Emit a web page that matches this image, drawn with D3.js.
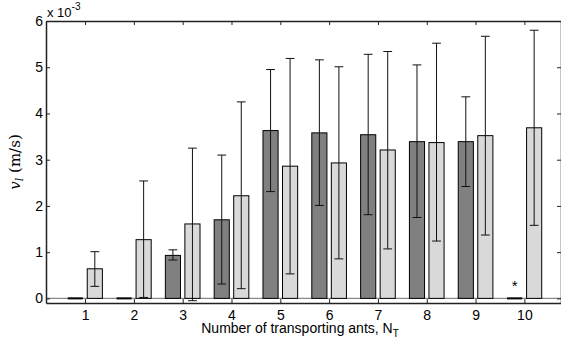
<!DOCTYPE html>
<html>
<head>
<meta charset="utf-8">
<script src="https://cdnjs.cloudflare.com/ajax/libs/d3/7.8.5/d3.min.js"></script>
<style>
  body { margin: 0; background: #fff; }
  svg { display: block; }
</style>
</head>
<body>
<div id="chart"></div>
<script>
// number of transporting ants
const groups = [1, 2, 3, 4, 5, 6, 7, 8, 9, 10];

// dark bars (x 10^-3 m/s) and their error limits
const darkValues = [0, 0, 0.93, 1.70, 3.63, 3.58, 3.54, 3.39, 3.39, 0];
const darkLow    = [null, null, 0.83, 0.31, 2.31, 2.01, 1.81, 1.75, 2.42, null];
const darkHigh   = [null, null, 1.05, 3.10, 4.95, 5.16, 5.28, 5.05, 4.36, null];

// light bars and their error limits
const lightValues = [0.64, 1.27, 1.61, 2.22, 2.86, 2.93, 3.21, 3.37, 3.52, 3.69];
const lightLow    = [0.26, 0.02, -0.05, 0.21, 0.53, 0.855, 1.07, 1.24, 1.37, 1.58];
const lightHigh   = [1.01, 2.54, 3.25, 4.25, 5.19, 5.01, 5.34, 5.52, 5.67, 5.80];

const yTicks = [0, 1, 2, 3, 4, 5, 6];
const starGroup = 10;
const starValue = 0.15;

const W = 561, H = 345;
const margin = { top: 21, right: 0, bottom: 42, left: 46 };
const width = W - margin.left - margin.right;
const height = H - margin.top - margin.bottom;

const svg = d3.select("#chart")
    .append("svg")
    .attr("width", W)
    .attr("height", H)
    .style("font-family", "'Liberation Sans', Arial, sans-serif");

const g = svg.append("g")
    .attr("transform", `translate(${margin.left},${margin.top})`);

const x = d3.scaleLinear().domain([0.2, 10.75]).range([0, width]);
const y = d3.scaleLinear().domain([-0.1, 6]).range([height, 0]);

const barW = x(0.31) - x(0);
const capW = x(0.18) - x(0);

// zero line
g.append("line")
    .attr("x1", 0).attr("x2", width)
    .attr("y1", y(0)).attr("y2", y(0))
    .attr("stroke", "#8a8a8a")
    .attr("stroke-width", 1.2);

function drawSeries(values, low, high, offset, fill) {
    const rows = groups.map((k, i) => ({ k, v: values[i], lo: low[i], hi: high[i] }));

    g.selectAll(null)
        .data(rows.filter(d => d.v > 0))
        .enter()
        .append("rect")
        .attr("x", d => x(d.k + offset) - barW / 2)
        .attr("y", d => y(d.v))
        .attr("width", barW)
        .attr("height", d => y(0) - y(d.v))
        .attr("fill", fill)
        .attr("stroke", "#000")
        .attr("stroke-width", 1);

    // empty bars show up as a flat black edge on the baseline
    g.selectAll(null)
        .data(rows.filter(d => d.v === 0))
        .enter()
        .append("line")
        .attr("x1", d => x(d.k + offset) - barW / 2)
        .attr("x2", d => x(d.k + offset) + barW / 2)
        .attr("y1", y(0)).attr("y2", y(0))
        .attr("stroke", "#000")
        .attr("stroke-width", 2);

    const err = rows.filter(d => d.lo !== null);
    const eg = g.selectAll(null)
        .data(err)
        .enter()
        .append("g")
        .attr("stroke", "#111")
        .attr("stroke-width", 1);

    eg.append("line")
        .attr("x1", d => x(d.k + offset)).attr("x2", d => x(d.k + offset))
        .attr("y1", d => y(d.lo)).attr("y2", d => y(d.hi));
    eg.append("line")
        .attr("x1", d => x(d.k + offset) - capW / 2).attr("x2", d => x(d.k + offset) + capW / 2)
        .attr("y1", d => y(d.hi)).attr("y2", d => y(d.hi));
    eg.append("line")
        .attr("x1", d => x(d.k + offset) - capW / 2).attr("x2", d => x(d.k + offset) + capW / 2)
        .attr("y1", d => y(d.lo)).attr("y2", d => y(d.lo));
}

drawSeries(darkValues, darkLow, darkHigh, -0.2, "#808080");
drawSeries(lightValues, lightLow, lightHigh, 0.2, "#d9d9d9");

// asterisk over group 10
g.append("text")
    .attr("x", x(starGroup - 0.2))
    .attr("y", y(starValue))
    .attr("text-anchor", "middle")
    .style("font-size", "15px")
    .text("*");

// axes
const axBottom = g.append("g")
    .attr("transform", `translate(0,${height})`)
    .call(d3.axisBottom(x).tickValues(groups).tickFormat(d3.format("d"))
        .tickSizeInner(-4).tickSizeOuter(0).tickPadding(7));
const axLeft = g.append("g")
    .call(d3.axisLeft(y).tickValues(yTicks).tickFormat(d3.format("d"))
        .tickSizeInner(-4).tickSizeOuter(0).tickPadding(3));
const axTop = g.append("g")
    .call(d3.axisTop(x).tickValues(groups).tickSizeInner(-4).tickSizeOuter(0).tickFormat(""));
const axRight = g.append("g")
    .attr("transform", `translate(${width},0)`)
    .call(d3.axisRight(y).tickValues(yTicks).tickSizeInner(-4).tickSizeOuter(0).tickFormat(""));

[axBottom, axLeft, axTop, axRight].forEach(a => {
    a.select(".domain").attr("stroke", "#222").attr("stroke-width", 1.5);
    a.selectAll(".tick line").attr("stroke", "#222");
    a.selectAll("text")
        .style("font-family", "'Liberation Sans', Arial, sans-serif")
        .style("font-size", "14px")
        .attr("fill", "#000");
});

// exponent label
const expo = svg.append("text")
    .attr("x", 47)
    .attr("y", 17)
    .style("font-size", "13px");
expo.append("tspan").text("x 10");
expo.append("tspan").attr("dy", -7).style("font-size", "10px").text("-3");

// y label
const yl = svg.append("text")
    .attr("transform", `translate(20,162) rotate(-90)`)
    .attr("text-anchor", "middle")
    .attr("font-family", "'DejaVu Serif', 'Liberation Serif', serif")
    .style("font-family", "'DejaVu Serif', 'Liberation Serif', serif")
    .style("font-size", "15px");
yl.append("tspan").style("font-style", "italic").text("v");
yl.append("tspan").attr("dy", 3).style("font-style", "italic").style("font-size", "11px").text("l");
yl.append("tspan").attr("dy", -3).text(" (m/s)");

// x label
const xl = svg.append("text")
    .attr("x", 300)
    .attr("y", 333)
    .attr("text-anchor", "middle")
    .style("font-size", "14px");
xl.append("tspan").text("Number of transporting ants, N");
xl.append("tspan").attr("dy", 4).style("font-size", "10px").text("T");
</script>
</body>
</html>
